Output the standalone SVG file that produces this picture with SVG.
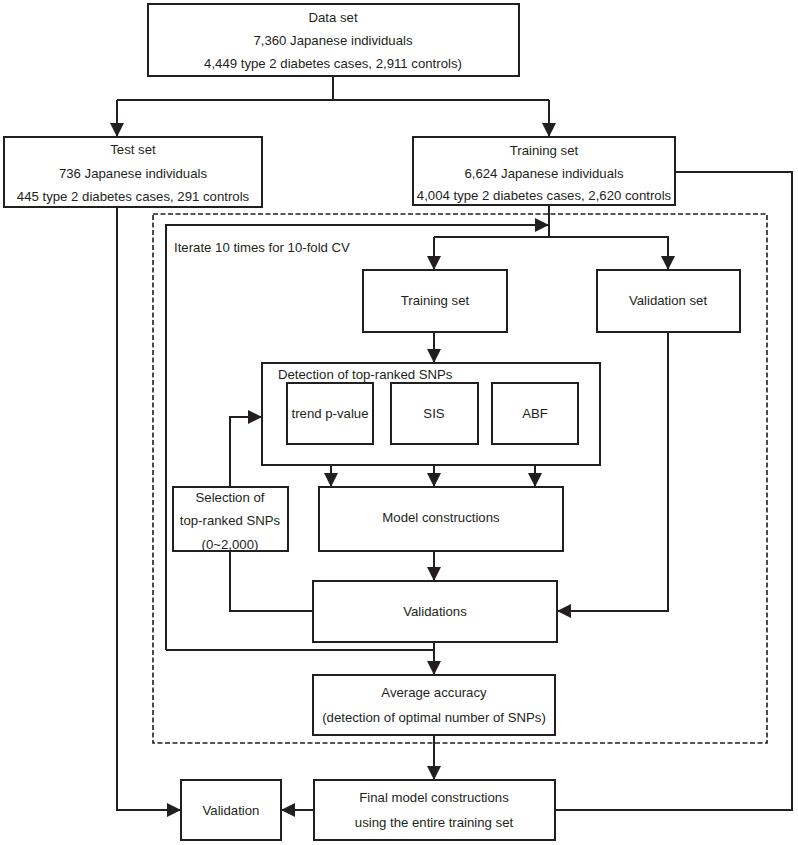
<svg xmlns="http://www.w3.org/2000/svg" width="798" height="845" viewBox="0 0 798 845">
<style>
.box{fill:#fff;stroke:#231f20;stroke-width:2}
.ln{fill:none;stroke:#231f20;stroke-width:2}
.arr{fill:none;stroke:#231f20;stroke-width:2;marker-end:url(#ah)}
.dash{fill:none;stroke:#231f20;stroke-width:1.6;stroke-dasharray:5,2.5}
text{font-family:"Liberation Sans",Arial,sans-serif;font-size:13.2px;fill:#231f20}
.c{text-anchor:middle}
</style>
<defs>
<marker id="ah" viewBox="0 0 10 10" refX="10" refY="5" markerWidth="14" markerHeight="14" markerUnits="userSpaceOnUse" orient="auto">
<path d="M0,0 L10,5 L0,10 z" fill="#231f20"/>
</marker>
</defs>
<rect width="798" height="845" fill="#fff"/>
<rect class="dash" x="153" y="214" width="614" height="529"/>
<g id="connectors">
<path class="ln" d="M333,76 V100 H117"/>
<path class="arr" d="M117,100 V137"/>
<path class="ln" d="M333,100 H549"/>
<path class="arr" d="M549,100 V137"/>
<path class="ln" d="M549,205 V237 H434"/>
<path class="arr" d="M434,237 V270"/>
<path class="arr" d="M549,237 H668 V270"/>
<path class="arr" d="M166,650 V225 H549"/>
<path class="arr" d="M434,332 V363"/>
<path class="arr" d="M331,444 V487"/>
<path class="arr" d="M434,444 V487"/>
<path class="arr" d="M535,444 V487"/>
<path class="arr" d="M434,551 V581"/>
<path class="arr" d="M668,332 V611 H557"/>
<path class="ln" d="M230,551 V611 H313"/>
<path class="arr" d="M230,487 V417 H262"/>
<path class="ln" d="M166,650 H434"/>
<path class="arr" d="M434,642 V675"/>
<path class="arr" d="M434,735 V780"/>
<path class="arr" d="M314,810 H281"/>
<path class="arr" d="M117,207 V810 H181"/>
<path class="ln" d="M675,172 H792 V810 H555"/>
</g>
<g id="data-set">
<rect class="box" x="148" y="4" width="371" height="72"/>
<text class="c" x="333" y="22">Data set</text>
<text class="c" x="333" y="45">7,360 Japanese individuals</text>
<text class="c" x="333" y="68">4,449 type 2 diabetes cases, 2,911 controls)</text>
</g>
<g id="test-set">
<rect class="box" x="4" y="137" width="258" height="70"/>
<text class="c" x="133" y="154">Test set</text>
<text class="c" x="133" y="178">736 Japanese individuals</text>
<text class="c" x="133" y="201">445 type 2 diabetes cases, 291 controls</text>
</g>
<g id="training-set">
<rect class="box" x="413" y="137" width="262" height="68"/>
<text class="c" x="544" y="155">Training set</text>
<text class="c" x="544" y="178">6,624 Japanese individuals</text>
<text class="c" x="544" y="200">4,004 type 2 diabetes cases, 2,620 controls</text>
</g>
<g id="iterate-label">
<text x="174" y="252">Iterate 10 times for 10-fold CV</text>
</g>
<g id="inner-training-set">
<rect class="box" x="363" y="270" width="144" height="62"/>
<text class="c" x="435" y="305">Training set</text>
</g>
<g id="validation-set">
<rect class="box" x="597" y="270" width="143" height="62"/>
<text class="c" x="668" y="305">Validation set</text>
</g>
<g id="detection">
<rect class="box" x="262" y="363" width="338" height="102"/>
<text x="278" y="379">Detection of top-ranked SNPs</text>
</g>
<g id="trend">
<rect class="box" x="287" y="383" width="86" height="61"/>
<text class="c" x="330" y="418">trend p-value</text>
</g>
<g id="sis">
<rect class="box" x="391" y="383" width="87" height="61"/>
<text class="c" x="434" y="418">SIS</text>
</g>
<g id="abf">
<rect class="box" x="492" y="383" width="86" height="61"/>
<text class="c" x="535" y="418">ABF</text>
</g>
<g id="selection">
<rect class="box" x="173" y="487" width="115" height="64"/>
<text class="c" x="230" y="502">Selection of</text>
<text class="c" x="230" y="525">top-ranked SNPs</text>
<text class="c" x="230" y="549">(0~2,000)</text>
</g>
<g id="model-constructions">
<rect class="box" x="319" y="487" width="244" height="64"/>
<text class="c" x="441" y="522">Model constructions</text>
</g>
<g id="validations">
<rect class="box" x="313" y="581" width="244" height="61"/>
<text class="c" x="435" y="616">Validations</text>
</g>
<g id="average-accuracy">
<rect class="box" x="313" y="675" width="242" height="60"/>
<text class="c" x="434" y="697">Average accuracy</text>
<text class="c" x="434" y="722">(detection of optimal number of SNPs)</text>
</g>
<g id="final-model">
<rect class="box" x="314" y="780" width="241" height="60"/>
<text class="c" x="434" y="802">Final model constructions</text>
<text class="c" x="434" y="827">using the entire training set</text>
</g>
<g id="validation">
<rect class="box" x="181" y="780" width="100" height="60"/>
<text class="c" x="231" y="815">Validation</text>
</g>
</svg>
